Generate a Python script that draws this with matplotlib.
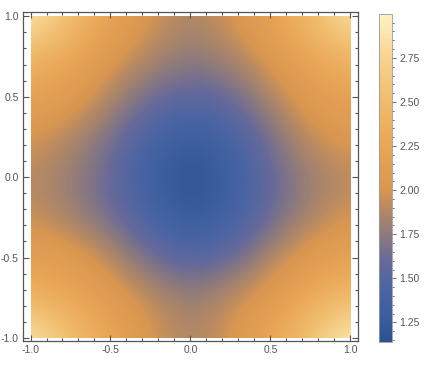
import numpy as np
import matplotlib.pyplot as plt
from matplotlib.colors import LinearSegmentedColormap
from matplotlib.patches import Rectangle

# grid of values (rows: y = 1 ... -1, cols: x = -1 ... 1)
xs = [-1.0, -0.75, -0.5, -0.25, 0.0, 0.25, 0.5, 0.75, 1.0]
ys = [1.0, 0.75, 0.5, 0.25, 0.0, -0.25, -0.5, -0.75, -1.0]
z = [
    [2.95, 2.55, 2.20, 2.00, 1.85, 2.00, 2.20, 2.50, 2.90],
    [2.45, 2.25, 2.05, 1.87, 1.75, 1.85, 2.05, 2.25, 2.45],
    [2.20, 2.10, 1.87, 1.64, 1.54, 1.62, 1.87, 2.10, 2.20],
    [2.00, 1.88, 1.68, 1.40, 1.25, 1.38, 1.68, 1.95, 2.05],
    [1.90, 1.78, 1.58, 1.30, 1.14, 1.30, 1.58, 1.80, 1.90],
    [1.95, 1.82, 1.65, 1.40, 1.20, 1.35, 1.62, 1.85, 2.00],
    [2.15, 2.10, 1.90, 1.64, 1.50, 1.60, 1.87, 2.10, 2.20],
    [2.40, 2.25, 2.10, 1.92, 1.78, 1.92, 2.10, 2.30, 2.50],
    [2.95, 2.55, 2.25, 2.00, 1.85, 2.00, 2.25, 2.60, 3.00],
]
zmin, zmax = 1.14, 3.0

# colour stops (value, colour) picked from the colour bar
stops = [(1.14, '#2b5290'), (1.30, '#3d5fa0'), (1.45, '#4d65a3'),
         (1.60, '#67699a'), (1.75, '#8e7a7c'), (1.90, '#b88a62'),
         (2.00, '#d99650'), (2.25, '#e9a656'), (2.50, '#f0bb6c'),
         (2.75, '#f7d38e'), (3.00, '#fff2c6')]
cmap = LinearSegmentedColormap.from_list(
    'm10', [((v - zmin) / (zmax - zmin), c) for v, c in stops])

plt.rcParams['font.family'] = ['Liberation Sans', 'DejaVu Sans']
tcol = '#555555'

fig = plt.figure(figsize=(4.26, 3.72), dpi=100)
ax = fig.add_axes([0.054, 0.083, 0.786, 0.884])
step = 0.25
im = ax.imshow(np.array(z), cmap=cmap, vmin=zmin, vmax=zmax,
               interpolation='bicubic', origin='upper',
               extent=[xs[0] - step / 2, xs[-1] + step / 2,
                       ys[-1] - step / 2, ys[0] + step / 2])
im.set_clip_path(Rectangle((-1, -1), 2, 2, transform=ax.transData))
ax.set_xlim(-1.047, 1.047)
ax.set_ylim(-1.02, 1.025)
ax.set_aspect('auto')

ax.set_xticks([-1.0, -0.5, 0.0, 0.5, 1.0])
ax.set_yticks([-1.0, -0.5, 0.0, 0.5, 1.0])
ax.set_xticks(np.arange(-1.0, 1.01, 0.1), minor=True)
ax.set_yticks(np.arange(-1.0, 1.01, 0.1), minor=True)
ax.set_xticklabels(['-1.0', '-0.5', '0.0', '0.5', '1.0'])
ax.set_yticklabels(['-1.0', '-0.5', '0.0', '0.5', '1.0'])
ax.tick_params(which='both', direction='in', top=True, right=True,
               color=tcol, labelcolor=tcol, labelsize=7.5, width=0.8)
ax.tick_params(which='major', length=4, pad=3)
ax.tick_params(which='minor', length=2)
for s in ax.spines.values():
    s.set_color(tcol)
    s.set_linewidth(0.9)

cax = fig.add_axes([0.890, 0.081, 0.0305, 0.882])
cb = fig.colorbar(im, cax=cax)
cb.set_ticks([1.25, 1.5, 1.75, 2.0, 2.25, 2.5, 2.75])
cb.set_ticklabels(['1.25', '1.50', '1.75', '2.00', '2.25', '2.50', '2.75'])
cax.set_yticks(np.arange(1.15, 3.0, 0.05), minor=True)
cax.tick_params(which='both', color=tcol, labelcolor=tcol, labelsize=7.5, width=0.6)
cax.tick_params(which='major', length=3, pad=2)
cax.tick_params(which='minor', length=1.5)
cb.outline.set_edgecolor('#999999')
cb.outline.set_linewidth(0.6)

plt.savefig('out.png', dpi=100)
